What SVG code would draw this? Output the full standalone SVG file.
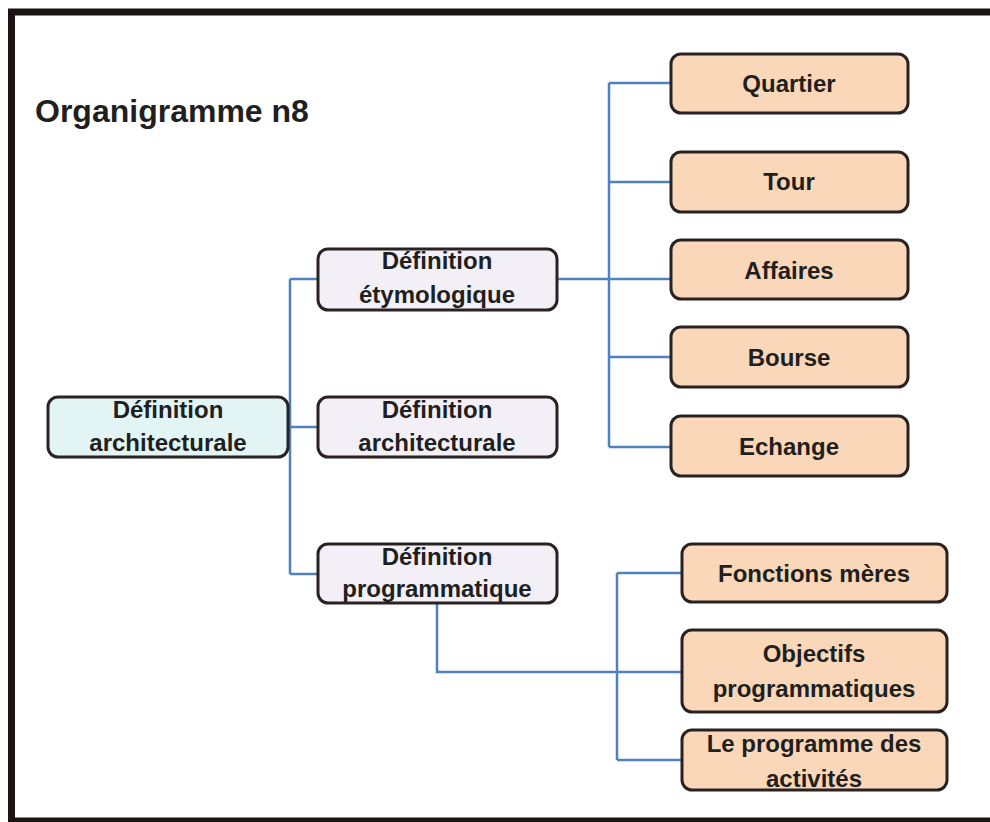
<svg xmlns="http://www.w3.org/2000/svg" width="990" height="822" viewBox="0 0 990 822">
<style>
  .frame { fill: none; stroke: #1a1414; stroke-width: 7; }
  .box { stroke: #2a2222; stroke-width: 3; }
  .root { fill: #e3f4f5; }
  .mid { fill: #f3eff6; }
  .leaf { fill: #fad7b8; }
  .t { font-family: "Liberation Sans", Arial, sans-serif; font-weight: bold; font-size: 24px; fill: #1f1f1f; text-anchor: middle; }
  .title { font-family: "Liberation Sans", Arial, sans-serif; font-weight: bold; font-size: 32px; fill: #1f1f1f; }
  .conn { fill: none; stroke: #4f81bd; stroke-width: 2.5; }
</style>
<rect width="990" height="822" fill="#ffffff"/>
<rect class="frame" x="11.5" y="12" width="990" height="809"/>
<text class="title" x="35" y="122">Organigramme n8</text>

<g id="connectors">
  <path class="conn" d="M288 427 H290 M290 279 V574 M290 279 H318 M290 427 H318 M290 574 H318"/>
  <path class="conn" d="M557 279 H671 M609 83 V447 M609 83 H671 M609 182 H671 M609 357 H671 M609 447 H671"/>
  <path class="conn" d="M437 603 V672 H682 M617 573 V760 M617 573 H682 M617 760 H682"/>
</g>

<g id="n-root">
  <rect class="box root" x="48" y="397" width="240" height="60" rx="10"/>
  <text class="t" x="168" y="418">Définition</text>
  <text class="t" x="168" y="451">architecturale</text>
</g>
<g id="n-etym">
  <rect class="box mid" x="318" y="249" width="239" height="61" rx="10"/>
  <text class="t" x="437" y="269">Définition</text>
  <text class="t" x="437" y="303">étymologique</text>
</g>
<g id="n-archi">
  <rect class="box mid" x="318" y="397" width="239" height="60" rx="10"/>
  <text class="t" x="437" y="418">Définition</text>
  <text class="t" x="437" y="451">architecturale</text>
</g>
<g id="n-prog">
  <rect class="box mid" x="318" y="544" width="239" height="59" rx="10"/>
  <text class="t" x="437" y="565">Définition</text>
  <text class="t" x="437" y="597">programmatique</text>
</g>

<g id="n-quartier">
  <rect class="box leaf" x="671" y="54" width="237" height="59" rx="10"/>
  <text class="t" x="789" y="92">Quartier</text>
</g>
<g id="n-tour">
  <rect class="box leaf" x="671" y="152" width="237" height="60" rx="10"/>
  <text class="t" x="789" y="190">Tour</text>
</g>
<g id="n-affaires">
  <rect class="box leaf" x="671" y="240" width="237" height="59" rx="10"/>
  <text class="t" x="789" y="279">Affaires</text>
</g>
<g id="n-bourse">
  <rect class="box leaf" x="671" y="327" width="237" height="60" rx="10"/>
  <text class="t" x="789" y="366">Bourse</text>
</g>
<g id="n-echange">
  <rect class="box leaf" x="671" y="416" width="237" height="60" rx="10"/>
  <text class="t" x="789" y="455">Echange</text>
</g>

<g id="n-fonctions">
  <rect class="box leaf" x="682" y="544" width="265" height="58" rx="10"/>
  <text class="t" x="814" y="582">Fonctions mères</text>
</g>
<g id="n-objectifs">
  <rect class="box leaf" x="682" y="630" width="265" height="82" rx="10"/>
  <text class="t" x="814" y="662">Objectifs</text>
  <text class="t" x="814" y="697">programmatiques</text>
</g>
<g id="n-programme">
  <rect class="box leaf" x="682" y="730" width="265" height="60" rx="10"/>
  <text class="t" x="814" y="752">Le programme des</text>
  <text class="t" x="814" y="787">activités</text>
</g>
</svg>
